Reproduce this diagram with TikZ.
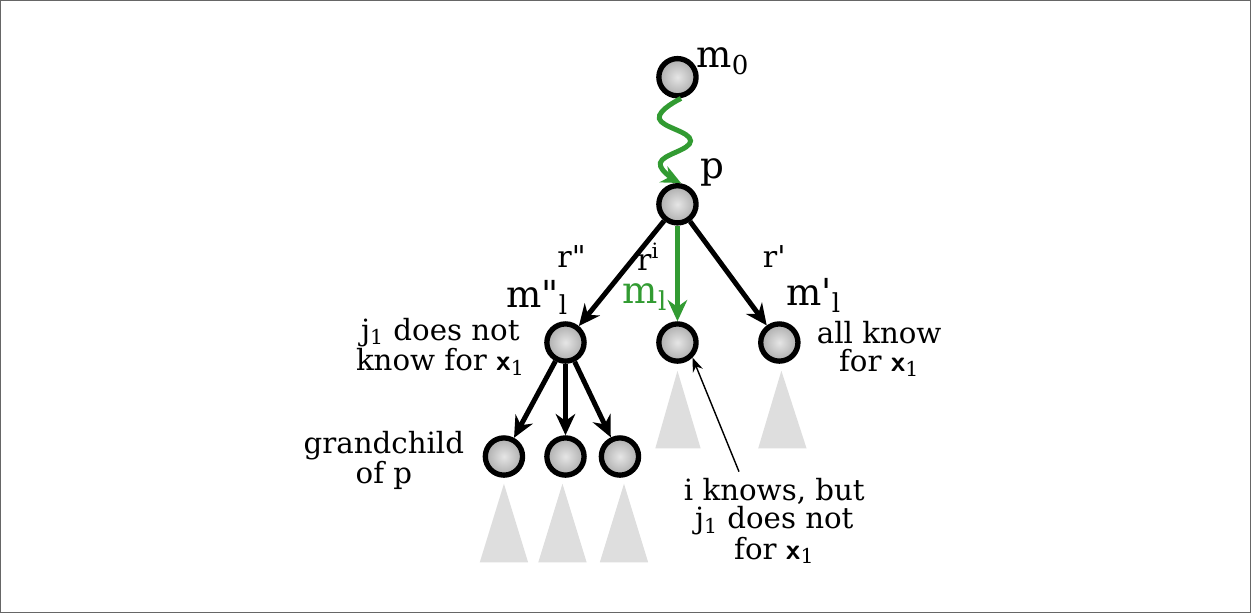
\documentclass[tikz,border=0pt]{standalone}
\usepackage{fontspec}
\setmainfont{DejaVu Serif}
\usetikzlibrary{positioning,arrows.meta,shadings}
\definecolor{pathgreen}{RGB}{50,155,50}

\begin{document}
\begin{tikzpicture}[x=0.02cm,y=-0.02cm,
    vert/.style={circle,draw=black,line width=3pt,minimum size=21pt,inner sep=0pt,inner color=gray!20,outer color=gray!65},
    sub/.style={fill=black!13,draw=none},
    lbl/.style={font=\fontsize{17}{18}\selectfont},
    big/.style={font=\fontsize{21}{22}\selectfont},
    note/.style={font=\fontsize{16.5}{16}\selectfont,align=center}]
   \draw[gray!80!black,line width=0.6pt] (6,6) rectangle (1245,613);
   % subtrees
   \fill[sub] (677,373) -- (655,450) -- (700,450) -- cycle;
   \fill[sub] (780,373) -- (757,450) -- (805,450) -- cycle;
   \fill[sub] (505,485) -- (481,563) -- (529,563) -- cycle;
   \fill[sub] (563,485) -- (539,563) -- (587,563) -- cycle;
   \fill[sub] (624,485) -- (600,563) -- (648,563) -- cycle;
   % vertices
   \node[vert] (m0) at (677,82) {};
   \node[vert] (p) at (677,208) {};
   \node[vert] (m2) at (566,345) {};
   \node[vert] (m1) at (677,345) {};
   \node[vert] (m3) at (778,345) {};
   \node[vert] (g1) at (505,458) {};
   \node[vert] (g2) at (566,458) {};
   \node[vert] (g3) at (620,458) {};
   % labels
   \node[big] at (722,66) {m\textsubscript{0}};
   \node[big] at (712,176) {p};
   \node[big] at (538,300) {m\textquotedbl\textsubscript{l}};
   \node[big,text=pathgreen] at (645,300) {m\textsubscript{l}};
   \node[big] at (812,298) {m\textquotesingle\textsubscript{l}};
   \node[lbl] at (572,260) {r\textquotedbl};
   \node[lbl] at (648,260) {r\textsuperscript{i}};
   \node[lbl] at (773,260) {r\textquotesingle};
   \node[note] (dn) at (442,349) {j\textsubscript{1} does not\\ know for \textbf{\sffamily x}\textsubscript{1}};
   \node[note] (ak) at (877,351) {all know\\ for \textbf{\sffamily x}\textsubscript{1}};
   \node[note] (gc) at (386,462) {grandchild\\ of p};
   \node[note] (ik) at (773,522) {i knows, but\\ j\textsubscript{1} does not\\ for \textbf{\sffamily x}\textsubscript{1}};
   % edges
   \draw[-{Stealth[length=11pt,width=10pt]},line width=2.8pt,pathgreen]
     plot[smooth,tension=0.75] coordinates {([xshift=2pt]m0.south) (659,123) (690,145) (660,167) ([xshift=2pt]p.north)};
   \path[-{Stealth[length=12pt,width=11pt]},line width=2.8pt]
     (p) edge (m2)
     (p) edge[pathgreen] (m1)
     (p) edge (m3)
     (m2) edge (g1)
     (m2) edge (g2)
     (m2) edge (g3);
   \coordinate (ia) at (738,473);
   \draw[-{Stealth[length=8pt,width=6pt]},line width=0.8pt] (ia) -- (m1.south east);
\end{tikzpicture}
\end{document}
